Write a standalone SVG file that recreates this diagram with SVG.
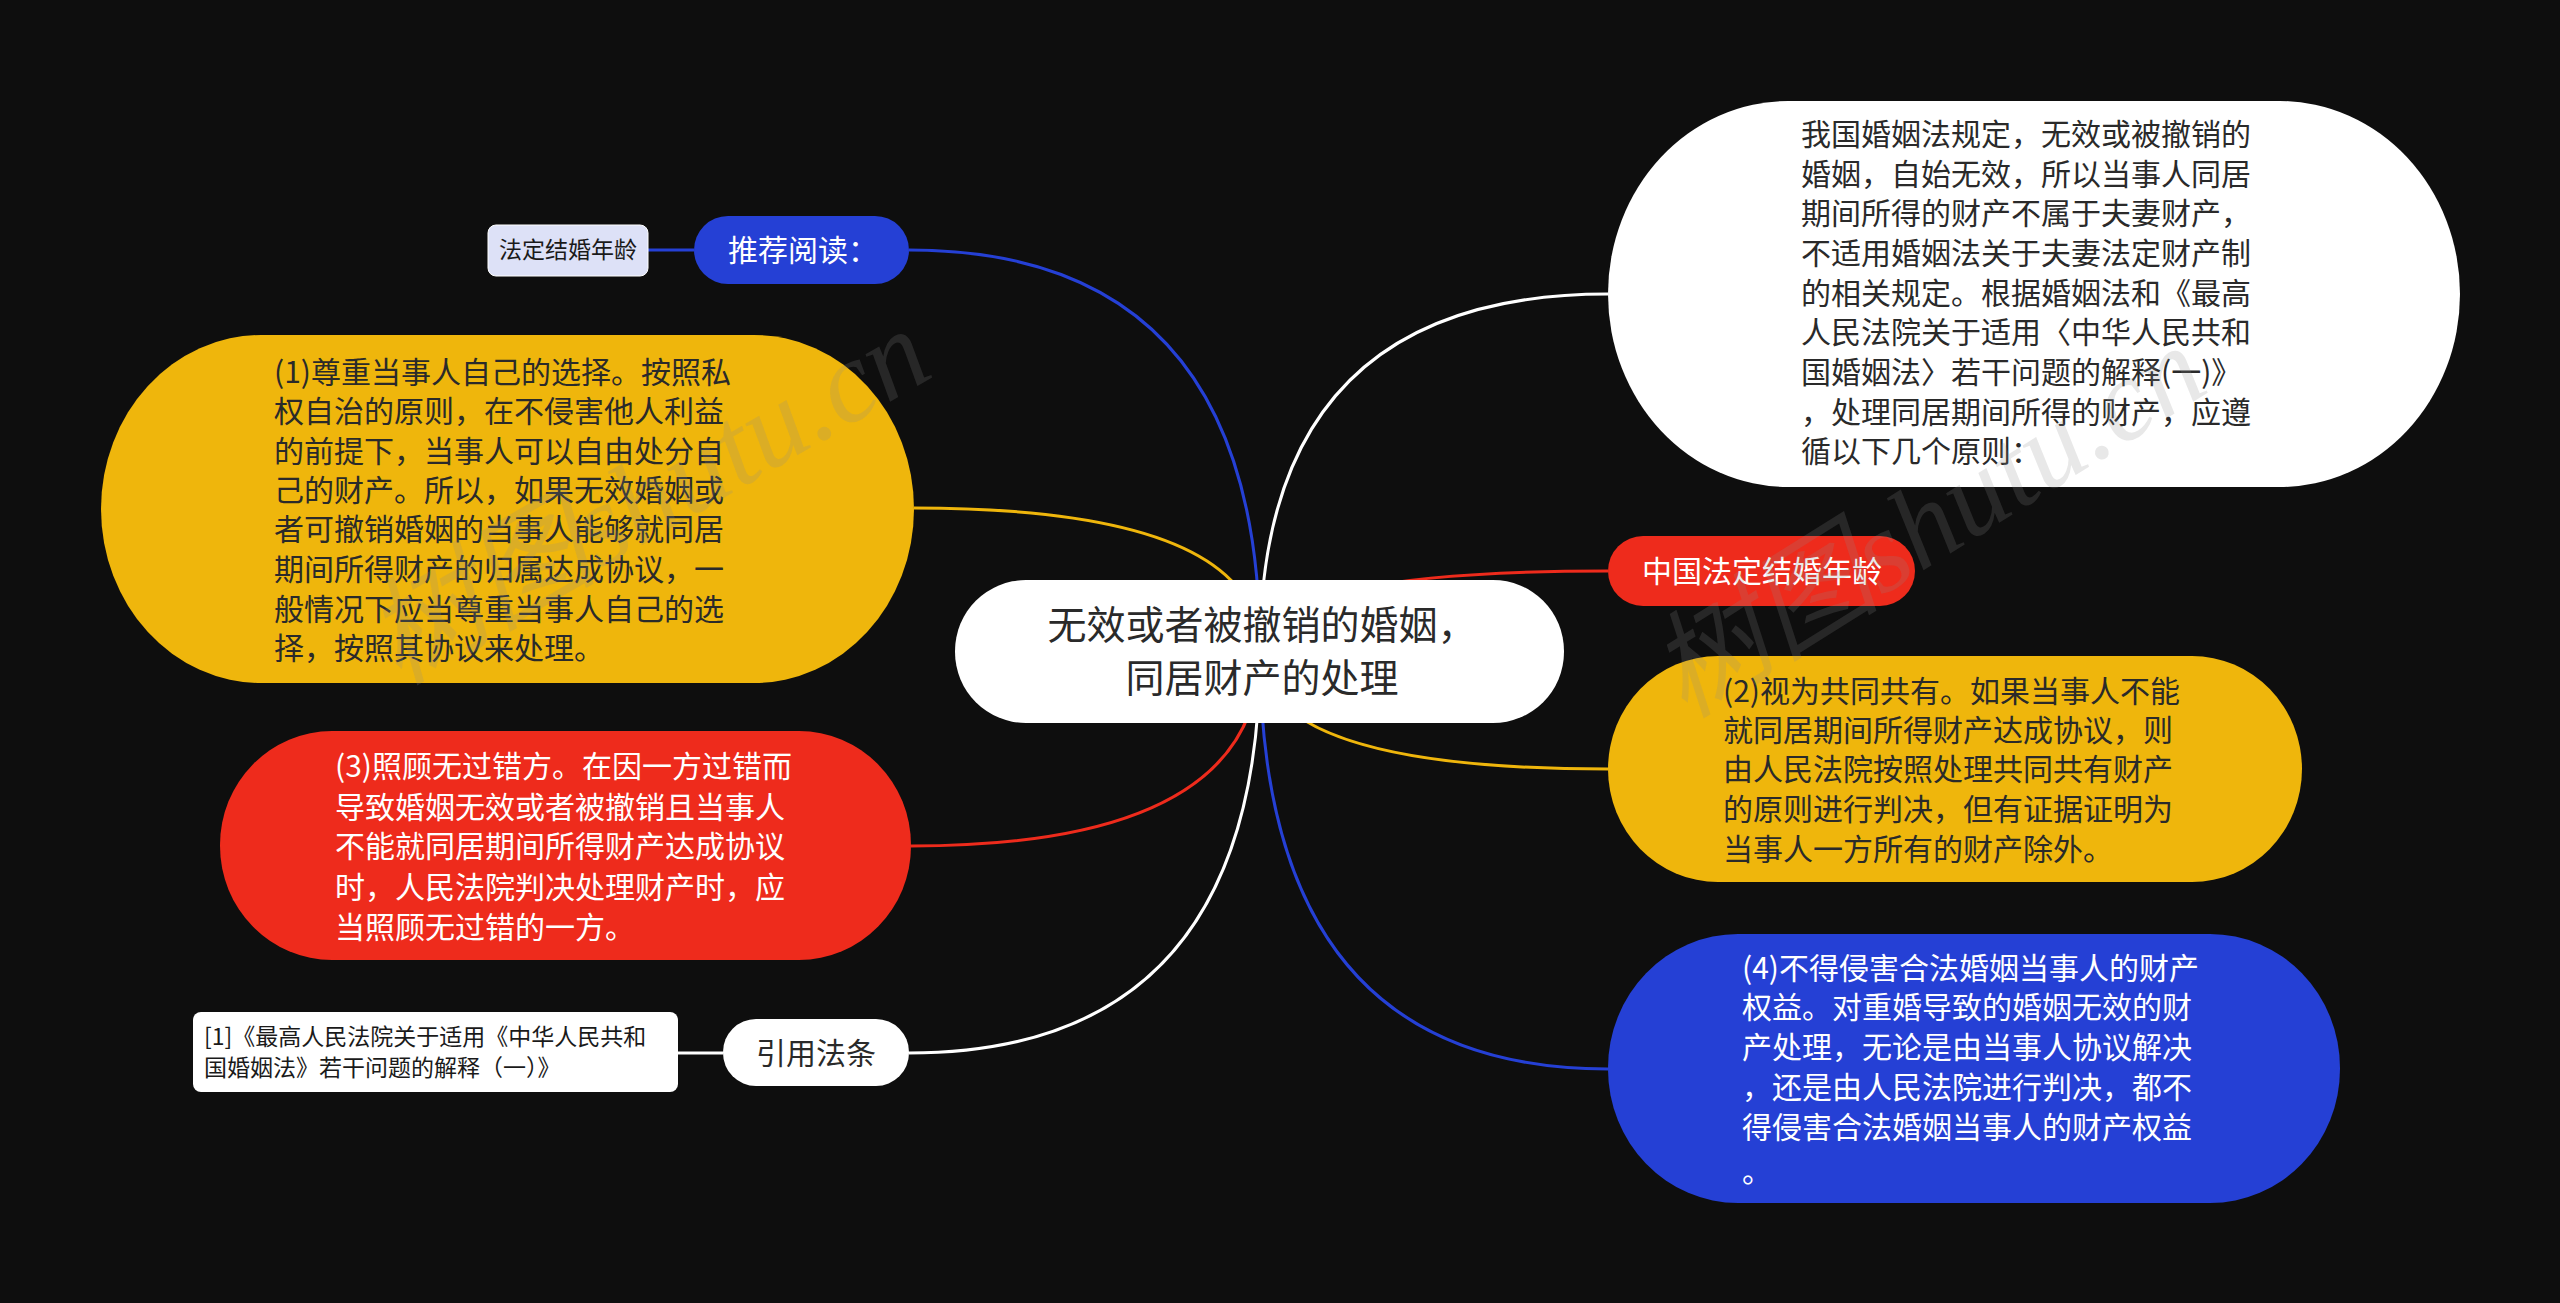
<svg xmlns="http://www.w3.org/2000/svg" width="2560" height="1303" viewBox="0 0 2560 1303">
<style>
text{font-family:"Noto Sans CJK SC","Noto Sans",sans-serif;}
.conn{fill:none;stroke-width:3;}
.t30{font-size:30px;}
.dark{fill:#2a2a2a;}
.light{fill:#ffffff;}
.wm{font-family:"Liberation Serif","Noto Sans CJK SC",serif;font-style:italic;font-size:116px;fill:#8a8a8a;fill-opacity:0.2;}
</style>
<rect x="0" y="0" width="2560" height="1303" fill="#0e0e0e"/>
<g id="connectors">
<path class="conn" stroke="#ffffff" d="M1260 651 Q1260 294 1608 294"/>
<path class="conn" stroke="#ee2b1c" d="M1260 651 Q1260 571 1608 571"/>
<path class="conn" stroke="#efb60c" d="M1260 651 Q1260 769 1608 769"/>
<path class="conn" stroke="#2540d5" d="M1260 651 Q1260 1069 1608 1069"/>
<path class="conn" stroke="#2540d5" d="M1260 651 Q1260 250 909 250"/>
<path class="conn" stroke="#efb60c" d="M1260 651 Q1260 508 914 508"/>
<path class="conn" stroke="#ee2b1c" d="M1260 651 Q1260 846 911 846"/>
<path class="conn" stroke="#ffffff" d="M1260 651 Q1260 1053 909 1053"/>
<path class="conn" stroke="#2540d5" d="M694 250 L648 250"/>
<path class="conn" stroke="#ffffff" d="M723 1053 L678 1053"/>
</g>
<g id="root">
<rect x="955" y="580" width="609" height="143" rx="71" ry="71" fill="#ffffff"/>
<text x="1262" y="639" text-anchor="middle" font-size="39" fill="#2a2a2a">无效或者被撤销的婚姻，</text>
<text x="1262" y="692" text-anchor="middle" font-size="39" fill="#2a2a2a">同居财产的处理</text>
</g>
<g id="node-intro">
<rect x="1608" y="101" width="852" height="386" rx="180" ry="193" fill="#ffffff"/>
<text class="t30 dark" x="1801">
<tspan x="1801" y="145">我国婚姻法规定，无效或被撤销的</tspan>
<tspan x="1801" y="185">婚姻，自始无效，所以当事人同居</tspan>
<tspan x="1801" y="224">期间所得的财产不属于夫妻财产，</tspan>
<tspan x="1801" y="264">不适用婚姻法关于夫妻法定财产制</tspan>
<tspan x="1801" y="304">的相关规定。根据婚姻法和《最高</tspan>
<tspan x="1801" y="343">人民法院关于适用〈中华人民共和</tspan>
<tspan x="1801" y="383">国婚姻法〉若干问题的解释(一)》</tspan>
<tspan x="1801" y="423">，处理同居期间所得的财产，应遵</tspan>
<tspan x="1801" y="462">循以下几个原则：</tspan>
</text>
</g>
<g id="node-age">
<rect x="1608" y="536" width="307" height="70" rx="35" ry="35" fill="#ee2b1c"/>
<text class="t30 light" x="1762" y="582" text-anchor="middle">中国法定结婚年龄</text>
</g>
<g id="node-2">
<rect x="1608" y="656" width="694" height="226" rx="110" ry="113" fill="#efb60c"/>
<text class="t30 dark">
<tspan x="1723" y="702">(2)视为共同共有。如果当事人不能</tspan>
<tspan x="1723" y="741">就同居期间所得财产达成协议，则</tspan>
<tspan x="1723" y="780">由人民法院按照处理共同共有财产</tspan>
<tspan x="1723" y="820">的原则进行判决，但有证据证明为</tspan>
<tspan x="1723" y="860">当事人一方所有的财产除外。</tspan>
</text>
</g>
<g id="node-4">
<rect x="1608" y="934" width="732" height="269" rx="130" ry="134" fill="#2540d5"/>
<text class="t30 light">
<tspan x="1742" y="979">(4)不得侵害合法婚姻当事人的财产</tspan>
<tspan x="1742" y="1018">权益。对重婚导致的婚姻无效的财</tspan>
<tspan x="1742" y="1058">产处理，无论是由当事人协议解决</tspan>
<tspan x="1742" y="1098">，还是由人民法院进行判决，都不</tspan>
<tspan x="1742" y="1138">得侵害合法婚姻当事人的财产权益</tspan>
<tspan x="1742" y="1182">。</tspan>
</text>
</g>
<g id="node-recommend">
<rect x="694" y="216" width="215" height="68" rx="34" ry="34" fill="#2540d5"/>
<text class="t30 light" x="728" y="261">推荐阅读：</text>
</g>
<g id="node-recommend-item">
<rect x="488" y="225" width="160" height="51" rx="8" ry="8" fill="#dde1f7" stroke="#ffffff" stroke-width="1"/>
<text x="568" y="258" text-anchor="middle" font-size="23" fill="#1a1a1a">法定结婚年龄</text>
</g>
<g id="node-1">
<rect x="101" y="335" width="813" height="348" rx="160" ry="174" fill="#efb60c"/>
<text class="t30 dark">
<tspan x="274" y="383">(1)尊重当事人自己的选择。按照私</tspan>
<tspan x="274" y="422">权自治的原则，在不侵害他人利益</tspan>
<tspan x="274" y="462">的前提下，当事人可以自由处分自</tspan>
<tspan x="274" y="501">己的财产。所以，如果无效婚姻或</tspan>
<tspan x="274" y="540">者可撤销婚姻的当事人能够就同居</tspan>
<tspan x="274" y="580">期间所得财产的归属达成协议，一</tspan>
<tspan x="274" y="620">般情况下应当尊重当事人自己的选</tspan>
<tspan x="274" y="659">择，按照其协议来处理。</tspan>
</text>
</g>
<g id="node-3">
<rect x="220" y="731" width="691" height="229" rx="112" ry="114" fill="#ee2b1c"/>
<text class="t30 light">
<tspan x="335" y="777">(3)照顾无过错方。在因一方过错而</tspan>
<tspan x="335" y="818">导致婚姻无效或者被撤销且当事人</tspan>
<tspan x="335" y="857">不能就同居期间所得财产达成协议</tspan>
<tspan x="335" y="898">时，人民法院判决处理财产时，应</tspan>
<tspan x="335" y="938">当照顾无过错的一方。</tspan>
</text>
</g>
<g id="node-cite">
<rect x="723" y="1019" width="186" height="67" rx="33" ry="33" fill="#ffffff"/>
<text class="t30 dark" x="816" y="1064" text-anchor="middle">引用法条</text>
</g>
<g id="node-cite-item">
<rect x="193" y="1012" width="485" height="80" rx="8" ry="8" fill="#ffffff"/>
<text font-size="23" fill="#1a1a1a">
<tspan x="204" y="1045">[1]《最高人民法院关于适用《中华人民共和</tspan>
<tspan x="204" y="1076">国婚姻法》若干问题的解释（一）》</tspan>
</text>
</g>
<g id="watermark">
<text class="wm" x="650" y="535" text-anchor="middle" transform="rotate(-30 650 500)">树图shutu.cn</text>
<text class="wm" x="1930" y="560" text-anchor="middle" transform="rotate(-32 1930 525)">树图shutu.cn</text>
</g>
</svg>
